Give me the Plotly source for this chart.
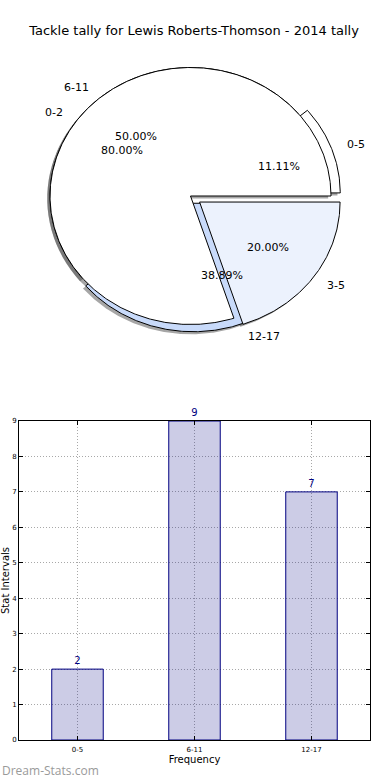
import numpy as np
import plotly.graph_objects as go

# ---------------- data ----------------
tally_labels = ["0-5", "6-11", "12-17"]
tally_counts = [2, 9, 7]
sub_labels = ["0-2", "3-5"]
sub_counts = [4, 1]

title_text = "Tackle tally for Lewis Roberts-Thomson - 2014 tally"
x_title = "Frequency"
y_title = "Stat Intervals"
watermark = "Dream-Stats.com"

# ---------------- style ----------------
tally_explode = [0.07, 0.0, 0.06]
sub_explode = [0.0, 0.08]
tally_colors = ["white", "white", "#c8dafa"]
sub_colors = ["white", "#ecf2fd"]
FONT = "DejaVu Sans"

W, H = 390, 780
# pie geometry in pixels (layout constants)
CX, CY, RX, RY = 190.5, 196.0, 140.5, 128.5

fig = go.Figure()

def wedges(values, explode):
    total = float(sum(values))
    out = []
    start = 0.0
    for v, e in zip(values, explode):
        span = 360.0 * v / total
        t1, t2 = start, start + span
        mid = np.radians((t1 + t2) / 2)
        ox, oy = e * np.cos(mid), e * np.sin(mid)
        th = np.radians(np.linspace(t1, t2, max(int(span * 2), 4)))
        xs = np.concatenate([[ox], ox + np.cos(th), [ox]])
        ys = np.concatenate([[oy], oy + np.sin(th), [oy]])
        out.append(dict(xs=xs, ys=ys, mid=mid, ox=ox, oy=oy, pct=100 * v / total))
        start = t2
    return out

w1 = wedges(tally_counts, tally_explode)
w2 = wedges(sub_counts, sub_explode)

# shadows first
for w in w1 + w2:
    fig.add_trace(go.Scatter(x=w["xs"] - 0.02, y=w["ys"] - 0.02, mode="lines",
                             fill="toself", fillcolor="rgba(77,77,77,0.5)",
                             line=dict(width=0), hoverinfo="skip",
                             xaxis="x2", yaxis="y2", showlegend=False))
for w, c in list(zip(w1, tally_colors)) + list(zip(w2, sub_colors)):
    fig.add_trace(go.Scatter(x=w["xs"], y=w["ys"], mode="lines", fill="toself",
                             fillcolor=c, line=dict(color="black", width=1),
                             hoverinfo="skip", xaxis="x2", yaxis="y2",
                             showlegend=False))

annos = []
for w, lab in list(zip(w1, tally_labels)) + list(zip(w2, sub_labels)):
    lx = w["ox"] + 1.1 * np.cos(w["mid"])
    ly = w["oy"] + 1.1 * np.sin(w["mid"])
    annos.append(dict(x=lx, y=ly, xref="x2", yref="y2", text=lab, showarrow=False,
                      xanchor="left" if lx > 0 else "right", yanchor="middle",
                      font=dict(family=FONT, size=11, color="black")))
    px_ = w["ox"] + 0.6 * np.cos(w["mid"])
    py_ = w["oy"] + 0.6 * np.sin(w["mid"])
    annos.append(dict(x=px_, y=py_, xref="x2", yref="y2", text=f"{w['pct']:.2f}%",
                      showarrow=False, xanchor="center", yanchor="middle",
                      font=dict(family=FONT, size=11, color="black")))

# ---------------- bar chart ----------------
fig.add_trace(go.Bar(x=tally_labels, y=tally_counts, width=0.44,
                     marker=dict(color="rgba(0,0,128,0.2)",
                                 line=dict(color="#000080", width=1)),
                     text=[str(v) for v in tally_counts], textposition="outside",
                     textfont=dict(family=FONT, size=10, color="#000080"),
                     constraintext="none", cliponaxis=False,
                     showlegend=False, hoverinfo="skip"))

axis_common = dict(showline=True, linecolor="black", linewidth=1, mirror="allticks",
                   ticks="inside", ticklen=4, tickcolor="black", automargin=False,
                   showgrid=True, gridcolor="#a8a8a8", griddash="1px,2px", gridwidth=1,
                   tickfont=dict(family=FONT, size=7, color="black"), zeroline=False)

px0, px1, py0, py1 = 19, 370, 421, 740
annos.append(dict(x=0.0, y=(H - 770) / H, xref="paper", yref="paper", text=watermark,
                  showarrow=False, xanchor="left", yanchor="middle",
                  font=dict(family="Open Sans", size=12, color="#9a9a9a")))

fig.update_layout(
    width=W, height=H, margin=dict(l=0, r=0, t=0, b=0, pad=0),
    paper_bgcolor="white", plot_bgcolor="white",
    font=dict(family=FONT, color="black"),
    title=dict(text=title_text, x=194 / W, xanchor="center", y=1 - 30 / H, yanchor="middle",
               font=dict(family=FONT, size=13, color="black")),
    xaxis=dict(domain=[px0 / W, px1 / W], range=[-0.5, 2.5], type="category",
               ticklabelstandoff=3,
               title=dict(text=x_title, font=dict(family=FONT, size=10, color="black"),
                          standoff=2),
               **axis_common),
    yaxis=dict(domain=[(H - py1) / H, (H - py0) / H], range=[0, 9], dtick=1,
               title=dict(text=y_title, font=dict(family=FONT, size=10, color="black"),
                          standoff=2),
               **axis_common),
    xaxis2=dict(domain=[0, 1], range=[-CX / RX, (W - CX) / RX], visible=False,
                anchor="y2", fixedrange=True, automargin=False),
    yaxis2=dict(domain=[0.5, 1], range=[-(H / 2 - CY) / RY, CY / RY], visible=False,
                anchor="x2", fixedrange=True, automargin=False),
    annotations=annos,
)

fig.write_html("out.html", config={"displayModeBar": False},
               post_script="document.body.style.margin='0';")
